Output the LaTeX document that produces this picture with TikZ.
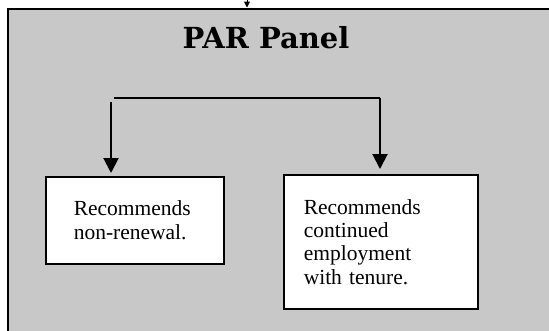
\documentclass[tikz,border=0pt]{standalone}
\usepackage{fontspec}
\setmainfont{Liberation Serif}
\newfontfamily\titlefont{DejaVu Serif}
\usetikzlibrary{arrows.meta}
\definecolor{panelgray}{RGB}{200,200,200}
\tikzset{
  panelbox/.style={draw=black, line width=2pt, fill=panelgray, anchor=north west, inner sep=0pt},
  leafbox/.style={draw=black, line width=1.5pt, fill=white, anchor=north west, align=left,
    font=\fontsize{21.5}{23.3}\selectfont, inner sep=0pt},
  conn/.style={draw=black, line width=2pt},
  bigtip/.style={-{Triangle[width=15pt,length=15pt]}},
  titletext/.style={font=\titlefont\bfseries\fontsize{29}{32}\selectfont, anchor=base}
}
\begin{document}
\begin{tikzpicture}[x=1pt,y=-1pt]
\useasboundingbox (0,0) rectangle (549,330);
\clip (0,0) rectangle (549,330);
\node[panelbox, minimum width=560pt, minimum height=340pt] (panel) at (7,7.5) {};
\node[titletext] (title) at (266,48) {PAR Panel};
\node[leafbox, minimum width=178pt, minimum height=87pt, text width=122pt] (nonrenew) at (45,176)
  {Recommends\\non-renewal.\par\vspace{6.6pt}};
\node[leafbox, minimum width=194pt, minimum height=134pt, text width=154pt] (tenure) at (283,174)
  {Recommends\\continued\\employment\\with tenure.\par\vspace{10pt}};
\coordinate (hl) at (114,97.7);
\coordinate (hr) at (380,97.7);
\coordinate (vl) at (111,102);
\coordinate (topin) at (247,-20);
\draw[conn] (hl) -- (hr);
\draw[conn, bigtip, shorten >=3pt] (vl) -- (vl |- nonrenew.north);
\draw[conn, bigtip, shorten >=5pt] (hr) -- (hr |- tenure.north);
\draw[line width=1pt, -{Triangle[width=6pt,length=6pt]}] (topin) -- (topin |- panel.north);
\end{tikzpicture}
\end{document}
